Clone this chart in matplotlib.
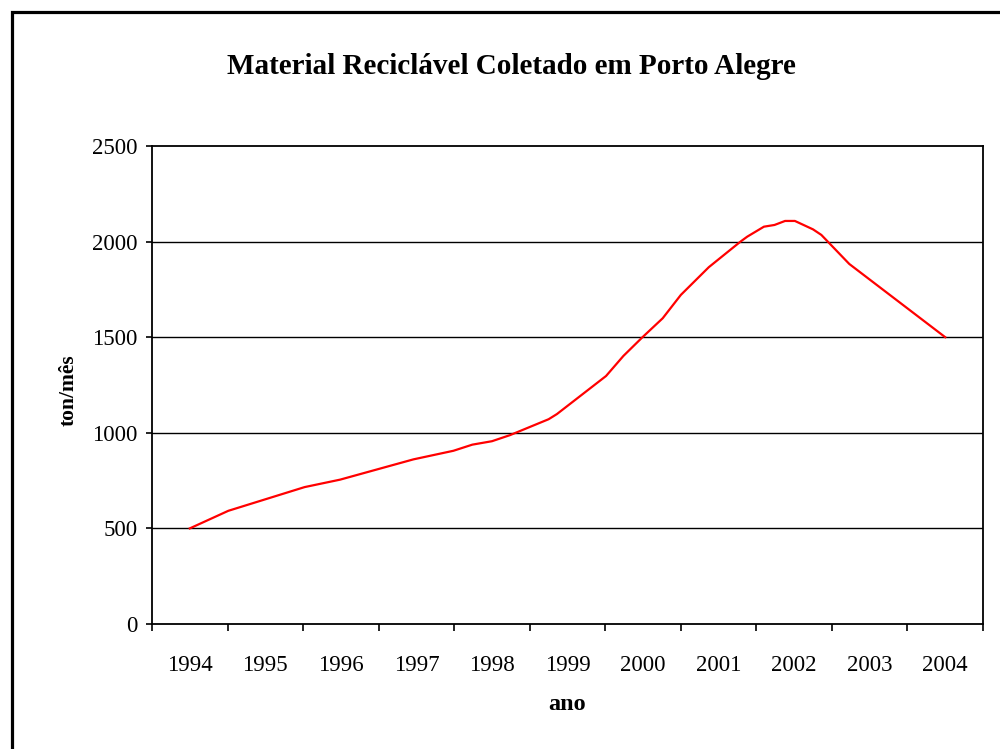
import matplotlib
matplotlib.use("Agg")
import matplotlib.pyplot as plt
from matplotlib.patches import Rectangle
from matplotlib.ticker import FixedLocator, NullFormatter

# ---- data ----
years = [1994, 1995, 1996, 1997, 1998, 1999, 2000, 2001, 2002, 2003, 2004]
year_labels = [str(y) for y in years]
t = [1994.00, 1994.51, 1995.52, 1995.99, 1996.96, 1997.49, 1997.74, 1998.00,
     1998.24, 1998.75, 1998.86, 1999.51, 1999.74, 1999.99, 2000.26, 2000.50,
     2000.87, 2001.29, 2001.38, 2001.60, 2001.74, 2001.88, 2002.01, 2002.25,
     2002.36, 2002.73, 2004.00]
ton = [500, 592, 716, 755, 861, 906, 938, 956,
       988, 1071, 1098, 1297, 1402, 1499, 1599, 1721,
       1866, 2000, 2026, 2078, 2087, 2108, 2108, 2064,
       2035, 1883, 1500]
yticks = [0, 500, 1000, 1500, 2000, 2500]

title = "Material Reciclável Coletado em Porto Alegre"
xlabel = "ano"
ylabel = "ton/mês"

plt.rcParams['font.family'] = ['Liberation Serif', 'DejaVu Serif']

fig = plt.figure(figsize=(10, 7.49), dpi=100)
ax = fig.add_axes([0.152, 1 - 624 / 749, 0.831, (624 - 146) / 749])

ax.plot(t, ton, color='#ff0000', lw=1.6, solid_joinstyle='round')

ax.set_xlim(years[0] - 0.5, years[-1] + 0.5)
ax.set_ylim(0, 2500)
ax.set_yticks(yticks)
ax.set_yticklabels([str(v) for v in yticks], fontsize=16.5)
for v in yticks[1:-1]:
    ax.axhline(v, color='black', lw=1.0, zorder=0)

ax.xaxis.set_major_locator(FixedLocator([y - 0.5 for y in years] + [years[-1] + 0.5]))
ax.xaxis.set_major_formatter(NullFormatter())
ax.xaxis.set_minor_locator(FixedLocator(years))
ax.set_xticklabels(year_labels, minor=True, fontsize=16.5)
ax.tick_params(axis='x', which='major', direction='out', length=5, width=1.2, color='black')
ax.tick_params(axis='x', which='minor', length=0, pad=22)
ax.tick_params(axis='y', direction='out', length=4.5, width=1.2, pad=6)

for s in ax.spines.values():
    s.set_linewidth(1.3)
    s.set_color('black')

fig.text(0.511, 1 - 67 / 749, title, ha='center', va='center',
         fontsize=21, fontweight='bold')
fig.text(0.567, 1 - 705 / 749, xlabel, ha='center', va='center',
         fontsize=17.5, fontweight='bold')
fig.text(0.069, 1 - 390 / 749, ylabel, ha='center', va='center',
         fontsize=15.5, fontweight='bold', rotation=90)

fig.patches.append(Rectangle((0.012, -0.5), 2, 0.984 + 0.5, transform=fig.transFigure,
                             fill=False, edgecolor='black', lw=2.3, figure=fig))

fig.savefig("out.png", dpi=100)
